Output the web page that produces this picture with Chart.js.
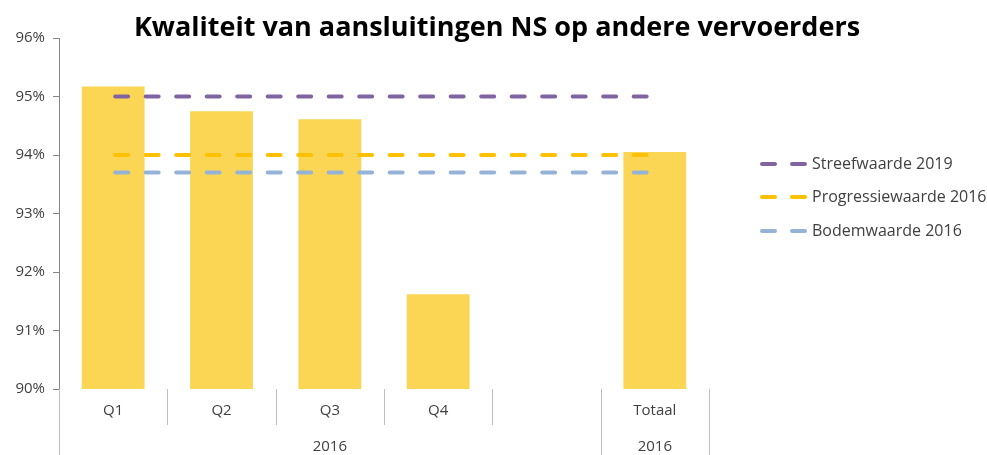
<!DOCTYPE html>
<html>
<head>
<meta charset="utf-8">
<script src="https://cdn.jsdelivr.net/npm/chart.js@4/dist/chart.umd.min.js"></script>
<style>
  html, body { margin: 0; padding: 0; background: #fff; }
  #wrap { width: 987px; height: 455px; }
</style>
</head>
<body>
<div id="wrap"><canvas id="kwaliteit"></canvas></div>
<script>
const categories = ['Q1', 'Q2', 'Q3', 'Q4', '', 'Totaal'];
const groups = [{ label: '2016', from: 0, to: 4 }, { label: '2016', from: 5, to: 5 }];
const realisatie = [95.17, 94.75, 94.61, 91.62, null, 94.05];
const streef2019 = [95, 95, 95, 95, 95, 95];
const progressie2016 = [94, 94, 94, 94, 94, 94];
const bodem2016 = [93.7, 93.7, 93.7, 93.7, 93.7, 93.7];
const yTicks = [90, 91, 92, 93, 94, 95, 96];

const FONT = '"Open Sans", "Liberation Sans", sans-serif';

// title, category axis with group row, and legend on the right
const extras = {
  id: 'extras',
  afterDraw(chart) {
    const { ctx, chartArea, scales } = chart;
    const x = scales.x;
    const bottom = chartArea.bottom;
    ctx.save();

    ctx.fillStyle = '#000';
    ctx.font = 'bold 27px ' + FONT;
    ctx.textAlign = 'center';
    ctx.textBaseline = 'middle';
    ctx.fillText('Kwaliteit van aansluitingen NS op andere vervoerders', 497, 28);

    const step = x.getPixelForValue(1) - x.getPixelForValue(0);
    ctx.strokeStyle = '#BFBFBF';
    ctx.lineWidth = 1;
    // separators between categories
    for (let i = 0; i <= categories.length; i++) {
      const px = Math.round(x.getPixelForValue(i) - step / 2) + 0.5;
      const isGroupEdge = i === 0 || i === categories.length || groups.some(g => g.from === i);
      ctx.beginPath();
      ctx.moveTo(px, bottom);
      ctx.lineTo(px, isGroupEdge ? 455 : 425);
      ctx.stroke();
    }
    ctx.fillStyle = '#404040';
    ctx.font = '15px ' + FONT;
    categories.forEach((c, i) => {
      ctx.fillText(c, x.getPixelForValue(i), 411);
    });
    groups.forEach(g => {
      const mid = (x.getPixelForValue(g.from) + x.getPixelForValue(g.to)) / 2;
      ctx.fillText(g.label, mid, 447);
    });

    // legend
    const rows = [164, 197, 231];
    ctx.textAlign = 'left';
    ctx.font = '16px ' + FONT;
    chart.data.datasets.filter(d => d.type === 'line').forEach((d, i) => {
      const y = rows[i];
      ctx.strokeStyle = d.borderColor;
      ctx.lineWidth = 4;
      ctx.lineCap = 'round';
      ctx.beginPath();
      ctx.moveTo(762, y); ctx.lineTo(775, y);
      ctx.moveTo(792, y); ctx.lineTo(805, y);
      ctx.stroke();
      ctx.fillStyle = '#404040';
      ctx.fillText(d.label, 812, y);
    });
    ctx.restore();
  }
};

const lineDs = (label, data, color) => ({
  type: 'line',
  label: label,
  data: data,
  borderColor: color,
  borderWidth: 4,
  borderDash: [13, 17.5],
  borderDashOffset: -2,
  borderCapStyle: 'round',
  pointRadius: 0,
  fill: false,
  order: 0
});

new Chart(document.getElementById('kwaliteit').getContext('2d'), {
  type: 'bar',
  data: {
    labels: categories,
    datasets: [
      lineDs('Streefwaarde 2019', streef2019, '#8064A2'),
      lineDs('Progressiewaarde 2016', progressie2016, '#FFC000'),
      lineDs('Bodemwaarde 2016', bodem2016, '#95B3D7'),
      {
        label: 'Realisatie',
        data: realisatie,
        backgroundColor: '#FBD655',
        barPercentage: 0.58,
        categoryPercentage: 1,
        order: 1
      }
    ]
  },
  options: {
    responsive: true,
    maintainAspectRatio: false,
    animation: false,
    layout: { padding: { left: 0, top: 38, right: 278, bottom: 66 } },
    plugins: { legend: { display: false }, title: { display: false }, tooltip: { enabled: false } },
    scales: {
      x: { display: false, offset: true },
      y: {
        min: 90,
        max: 96,
        afterFit: s => { s.width = 59; },
        afterBuildTicks: s => { s.ticks = yTicks.map(v => ({ value: v })); },
        border: { display: true, color: '#868686' },
        grid: { drawOnChartArea: false, tickLength: 6, color: '#868686' },
        ticks: {
          color: '#404040',
          font: { family: FONT, size: 15 },
          padding: 8,
          callback: v => v + '%'
        }
      }
    }
  },
  plugins: [extras]
});
</script>
</body>
</html>
